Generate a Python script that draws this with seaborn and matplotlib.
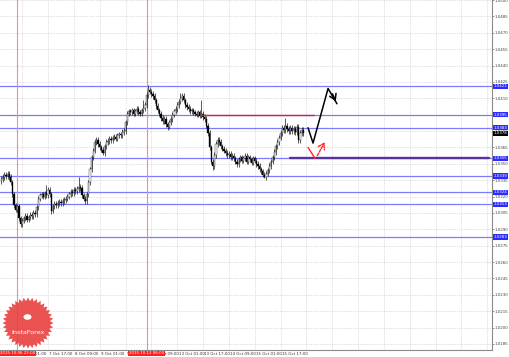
import numpy as np
import pandas as pd
import matplotlib
matplotlib.use("Agg")
import matplotlib.pyplot as plt
import matplotlib.transforms as mtransforms
from matplotlib.patches import Polygon, Circle
import seaborn as sns

# ---------------- data ----------------
closes = [
    1.0336, 1.0338, 1.0340, 1.0339, 1.0341, 1.0338,
    1.0333, 1.0322, 1.0312, 1.0308, 1.0311,
    1.0300, 1.0295, 1.0298,
    1.0300, 1.0302, 1.0299, 1.0301, 1.0303, 1.0302, 1.0305, 1.0304,
    1.0310, 1.0318, 1.0321,
    1.0322, 1.0320, 1.0323, 1.0321, 1.0326, 1.0322,
    1.0307,
    1.0311, 1.0313, 1.0312, 1.0314, 1.0315, 1.0314, 1.0316, 1.0317, 1.0318,
    1.0320, 1.0322, 1.0324, 1.0323, 1.0326, 1.0325, 1.0327, 1.0329, 1.0328,
    1.0321, 1.0318, 1.0316, 1.0322,
    1.0333, 1.0345, 1.0356, 1.0362, 1.0370,
    1.0372, 1.0368, 1.0365,
    1.0363, 1.0360, 1.0366, 1.0370,
    1.0371, 1.0373, 1.0372, 1.0374, 1.0375, 1.0373, 1.0376, 1.0377, 1.0376, 1.0379, 1.0380,
    1.0388, 1.0396, 1.0398,
    1.0397, 1.0399, 1.0396, 1.0398, 1.0400, 1.0397, 1.0396, 1.0399, 1.0401, 1.0404,
    1.0413, 1.0418, 1.0416, 1.0414, 1.0412,
    1.0408, 1.0403, 1.0399, 1.0396,
    1.0392, 1.0389, 1.0391, 1.0386, 1.0384, 1.0388,
    1.0391, 1.0395, 1.0398, 1.0400, 1.0404, 1.0407, 1.0410, 1.0412,
    1.0408, 1.0404, 1.0402, 1.0400, 1.0398, 1.0399, 1.0397, 1.0396,
    1.0395, 1.0397, 1.0394, 1.0396, 1.0393, 1.0391,
    1.0385, 1.0378, 1.0365, 1.0352, 1.0348, 1.0358,
    1.0368, 1.0372, 1.0370, 1.0366, 1.0364,
    1.0362, 1.0360, 1.0358, 1.0359, 1.0356, 1.0357, 1.0355, 1.0352,
    1.0350, 1.0354, 1.0356, 1.0353, 1.0355, 1.0357, 1.0352, 1.0356, 1.0354, 1.0351,
    1.0355, 1.0353, 1.0350, 1.0348,
    1.0345, 1.0343, 1.0340, 1.0338, 1.0341, 1.0344, 1.0348,
    1.0352, 1.0356, 1.0361, 1.0366, 1.0370, 1.0374,
    1.0378, 1.0383, 1.0381, 1.0385, 1.0382, 1.0380,
    1.0383, 1.0380, 1.0382, 1.0379, 1.0384, 1.0372, 1.0378, 1.0381, 1.0378,
]
first_open = 1.0334
typical_wick = 0.00025
high_spikes = {5: 1.0343, 28: 1.0331, 48: 1.0338, 88: 1.0408, 91: 1.0422,
               111: 1.0415, 124: 1.0408, 176: 1.0392}
low_spikes = {12: 1.0292, 31: 1.0304, 52: 1.0313, 63: 1.0358, 103: 1.0381,
              131: 1.0344, 163: 1.0337, 184: 1.0369}

level_prices = [1.0421, 1.0395, 1.0383, 1.0355, 1.0339, 1.0324, 1.0313, 1.0283]
current_price = 1.0378

time_label_bars = [13, 29, 45, 61, 77, 93, 109, 125, 141, 157, 173]
time_labels = ["7 Oct 01:00", "7 Oct 17:00", "8 Oct 09:00", "9 Oct 01:00",
               "9 Oct 17:00", "12 Oct 09:00", "13 Oct 01:00", "13 Oct 17:00",
               "14 Oct 09:00", "15 Oct 01:00", "15 Oct 17:00"]
vline_bars = [10, 90]
vline_labels = ["2015.10.06 22:00", "2015.10.12 06:00"]

red_seg_bars = [123, 194]
red_seg_price = 1.0395
purple_seg_bars = [179, 302]
purple_seg_price = 1.0355

black_path_x = [190, 193.1, 202.4, 207.9]
black_path_y = [1.0383, 1.0369, 1.0419, 1.0405]
red_path_x = [190, 194.3, 201.1]
red_path_y = [1.0365, 1.0355, 1.0372]

ytick_values = [round(1.0185 + 0.0015 * k, 4) for k in range(22)]

# ---------------- figure ----------------
sns.set_style("white")
plt.rcParams["font.family"] = ["DejaVu Sans"]
W, H = 510, 357
FS = 2.9
fig = plt.figure(figsize=(W / 100, H / 100), dpi=100)
ax = fig.add_axes([0, 7 / H, 492 / W, 350 / H])

n = len(closes)
idx = np.arange(n)
opens = [first_open] + closes[:-1]
df = pd.DataFrame({"i": idx, "open": opens, "close": closes})
df["high"] = [high_spikes.get(i, max(o, c) + typical_wick) for i, o, c in zip(idx, opens, closes)]
df["low"] = [low_spikes.get(i, min(o, c) - typical_wick) for i, o, c in zip(idx, opens, closes)]

# grid
ax.set_xticks(np.arange(13, 304, 16))
ax.set_yticks(ytick_values)
ax.grid(True, ls=(0, (1, 1.5)), color="#c4c4c4", lw=0.5)
ax.set_axisbelow(True)

# level lines
for p in level_prices:
    ax.axhline(p, color="#7b7bff", lw=0.9, zorder=2)
# red vertical lines
for b in vline_bars:
    ax.axvline(b, color="#ff8a8a", lw=0.8, zorder=2)

# candles
ax.vlines(df["i"], df["low"], df["high"], color="black", lw=0.45, zorder=3)
bull = df["close"] >= df["open"]
body_bottom = np.minimum(df["open"], df["close"])
body_h = np.maximum(np.abs(df["close"] - df["open"]), 0.00003)
ax.bar(df["i"][bull], body_h[bull], bottom=body_bottom[bull], width=0.75,
       color="white", edgecolor="black", lw=0.25, zorder=4)
ax.bar(df["i"][~bull], body_h[~bull], bottom=body_bottom[~bull], width=0.75,
       color="black", edgecolor="black", lw=0.25, zorder=4)

# red and purple horizontal segments
ax.plot(red_seg_bars, [red_seg_price] * 2, color="#e02626", lw=1.0, zorder=5)
ax.plot(purple_seg_bars, [purple_seg_price] * 2, color="#5a2f9e", lw=1.7, zorder=5)

# forecast arrows
sns.lineplot(x=black_path_x, y=black_path_y, sort=False,
             color="black", lw=1.1, ax=ax, zorder=6)
ax.annotate("", xy=(black_path_x[-1], black_path_y[-1]),
            xytext=(black_path_x[-2] + 2.0, black_path_y[-2] - 0.00027),
            arrowprops=dict(arrowstyle="->,head_length=0.4,head_width=0.25",
                            color="black", lw=1.1), zorder=6)
ax.plot(red_path_x[:2], red_path_y[:2], color="#ff2a2a", lw=1.0, zorder=6)
ax.annotate("", xy=(red_path_x[2], red_path_y[2]),
            xytext=(red_path_x[1] + 0.6, red_path_y[1] + 0.00002),
            arrowprops=dict(arrowstyle="->,head_length=0.4,head_width=0.25",
                            color="#ff2a2a", lw=1.0, linestyle=(0, (2, 1))), zorder=6)

ax.set_xlim(-0.72, 303.9)
ax.set_ylim(1.01795, 1.0500)

# axes style
for s in ["left", "top"]:
    ax.spines[s].set_visible(False)
for s in ["right", "bottom"]:
    ax.spines[s].set_color("#8a8a8a")
    ax.spines[s].set_linewidth(0.8)
ax.yaxis.tick_right()
ax.tick_params(axis="y", labelsize=FS, length=1.2, pad=0.8, colors="#444444", width=0.4)
ax.set_yticklabels([f"{v:.4f}" for v in ytick_values])
ax.tick_params(axis="x", labelbottom=False, length=1.5, width=0.4, colors="#444444")

# time labels
tb = mtransforms.blended_transform_factory(ax.transData, ax.transAxes)
for b, lab in zip(time_label_bars, time_labels):
    ax.text(b + 0.8, -0.005, lab, transform=tb, ha="left", va="top",
            fontsize=FS, color="#333333", clip_on=False, zorder=7)
for b, lab in zip(vline_bars, vline_labels):
    ax.text(b, -0.004, lab, transform=tb, ha="center", va="top",
            fontsize=FS, color="white", clip_on=False, zorder=8,
            bbox=dict(facecolor="#ff1f1f", edgecolor="none", pad=0.6))

# right-axis boxes
rb = mtransforms.blended_transform_factory(ax.transAxes, ax.transData)
for p in level_prices:
    ax.text(1.003, p, f"{p:.4f}", transform=rb, ha="left", va="center",
            fontsize=FS, color="white", clip_on=False, zorder=8,
            bbox=dict(facecolor="#2b2bff", edgecolor="none", pad=0.5))
ax.text(1.003, current_price, f"{current_price:.4f}", transform=rb, ha="left",
        va="center", fontsize=FS, color="white", clip_on=False, zorder=9,
        bbox=dict(facecolor="black", edgecolor="none", pad=0.5))

# InstaForex watermark
cx, cy, r1, r2 = 28, 323, 25.5, 22.0
ang = np.linspace(0, 2 * np.pi, 73)[:-1]
rad = np.where(np.arange(72) % 2 == 0, r1, r2)
pts = np.column_stack([(cx + rad * np.cos(ang)) / W, 1 - (cy + rad * np.sin(ang)) / H])
fig.patches.append(Polygon(pts, closed=True, transform=fig.transFigure,
                           facecolor="#e93b3b", edgecolor="none", alpha=0.88, zorder=1))
fig.patches.append(Circle((27.5 / W, 1 - 317 / H), 4 / W, transform=fig.transFigure,
                          facecolor="white", edgecolor="none", zorder=2))
fig.text(28 / W, 1 - 333 / H, "InstaForex", ha="center", va="center",
         fontsize=4.6, color="white", zorder=3)

fig.savefig("out.png", dpi=100)
